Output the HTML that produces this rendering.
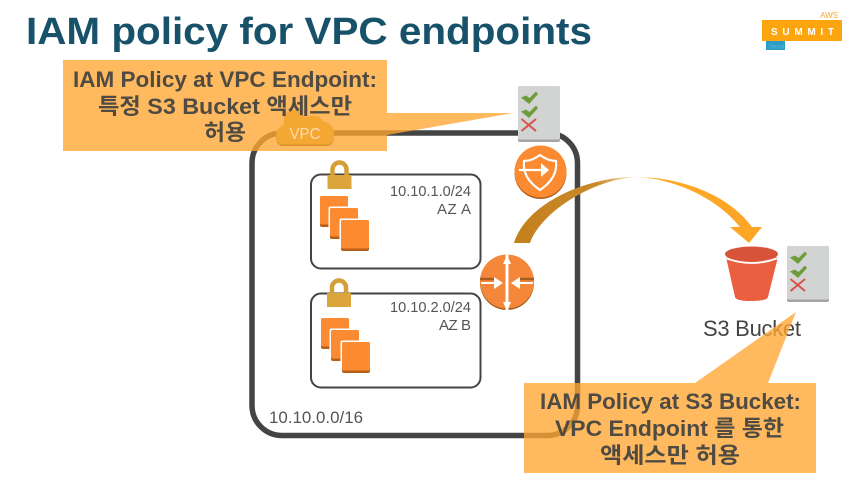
<!DOCTYPE html>
<html><head><meta charset="utf-8"><style>
html,body{margin:0;padding:0;background:#fff;width:861px;height:483px;overflow:hidden}
svg{display:block}
text{font-family:"Liberation Sans","Noto Sans CJK KR",sans-serif}
.c{font-weight:700;font-size:22px;fill:#4f4b42;font-family:"Liberation Sans","Noto Sans CJK KR",sans-serif}
.n{fill:#555;font-size:15px}
</style></head><body>
<svg width="861" height="483" viewBox="0 0 861 483" xmlns="http://www.w3.org/2000/svg">
<defs>
<linearGradient id="ag" gradientUnits="userSpaceOnUse" x1="514" y1="0" x2="765" y2="0">
<stop offset="0" stop-color="#c47f1c"/><stop offset=".33" stop-color="#c98a2a"/><stop offset=".47" stop-color="#f5d7a8"/><stop offset=".55" stop-color="#fda928"/><stop offset="1" stop-color="#fda526"/>
</linearGradient>
<g id="chk">
<rect x="0" y="0" width="42" height="56" rx="2" fill="#a3a5a5"/>
<rect x="0" y="0" width="42" height="53.5" rx="2" fill="#d2d4d3"/>
<path d="M3 11.500 L8 9.500 L11.500 12 L18 5.500 L20 8 L11 18 Z" fill="#6f9b3a"/>
<path d="M3 25.500 L8 23.500 L11.500 26 L18 19.500 L20 22 L11 32 Z" fill="#6f9b3a"/>
<path d="M3.500 33 L18 45 M18 33 L3.500 45" stroke="#d9534a" stroke-width="2" fill="none"/>
</g>
<g id="lock">
<path d="M5 16 V9.500 A7 7 0 0 1 19 9.500 V16" fill="none" stroke="#d49f38" stroke-width="4.500"/>
<rect x="0" y="15" width="24" height="14" fill="#dba53b"/>
</g>
<g id="sq">
<rect x="0" y="0" width="28" height="31" rx="2" fill="#b85f17"/>
<rect x="0" y="0" width="28" height="28.5" rx="2" fill="#fb8a30"/>
</g>
<g id="stack">
<use href="#sq" x="0" y="0"/>
<rect x="8.500" y="10.500" width="31" height="33" fill="#fff" rx="2"/>
<use href="#sq" x="10" y="12"/>
<rect x="19.500" y="22.500" width="31" height="33" fill="#fff" rx="2"/>
<use href="#sq" x="21" y="24"/>
</g>
</defs>

<text x="26" y="44" font-size="38" font-weight="700" fill="#17526a" textLength="566" lengthAdjust="spacingAndGlyphs">IAM policy for VPC endpoints</text>

<!-- logo -->
<text x="838" y="18" font-size="8" fill="#f7a830" text-anchor="end">AWS</text>
<rect x="762" y="20" width="80" height="21" fill="#fda50f"/>
<text x="771" y="35" font-size="10" font-weight="700" fill="#fff" textLength="63" lengthAdjust="spacing">SUMMIT</text>
<rect x="766" y="41" width="19" height="9" fill="#2a9cc6"/>
<text x="769" y="48.500" font-size="6" fill="#5cb7d8">Seoul</text>

<!-- VPC -->
<rect x="252" y="133" width="325.500" height="302.500" rx="30" fill="none" stroke="#444" stroke-width="5.500"/>

<!-- subnets -->
<rect x="311" y="174.500" width="169.500" height="94" rx="10" fill="#fff" stroke="#444" stroke-width="2"/>
<rect x="311" y="293.500" width="169.500" height="94" rx="10" fill="#fff" stroke="#444" stroke-width="2"/>
<use href="#lock" x="327.500" y="160"/>
<use href="#lock" x="327" y="278"/>
<use href="#stack" x="320" y="196"/>
<use href="#stack" x="321" y="318"/>
<text class="n" x="471" y="196" text-anchor="end" textLength="81" lengthAdjust="spacingAndGlyphs">10.10.1.0/24</text>
<text class="n" x="471" y="214" text-anchor="end" textLength="34" lengthAdjust="spacing">AZ A</text>
<text class="n" x="471" y="312" text-anchor="end" textLength="81" lengthAdjust="spacingAndGlyphs">10.10.2.0/24</text>
<text class="n" x="471" y="330" text-anchor="end" textLength="32" lengthAdjust="spacing">AZ B</text>
<text x="269" y="423" font-size="17" fill="#555" textLength="94" lengthAdjust="spacingAndGlyphs">10.10.0.0/16</text>

<!-- endpoint -->
<circle cx="540.500" cy="173" r="26" fill="#a85c1d"/>
<circle cx="540.500" cy="171.500" r="26" fill="#fb8a30"/>
<path d="M524 161 Q532 161 540 155 Q548 161 556 161 Q558 178 540 190 Q522 178 524 161 Z" fill="none" stroke="#fff" stroke-width="2.200"/>
<path d="M519 170 H544" stroke="#fff" stroke-width="2.200"/>
<path d="M541 163 L549 170 L541 177 Z" fill="#fff"/>

<!-- router -->
<circle cx="507" cy="283" r="27" fill="#a85c1d"/>
<circle cx="507" cy="281.500" r="27" fill="#f4873a"/>
<rect x="505.500" y="252" width="3" height="62" fill="#fff"/>
<path d="M480 279 H495 M534 279 H519" stroke="#a85c1d" stroke-width="2.500"/>
<path d="M481 283 H495 M533 283 H519" stroke="#fff" stroke-width="2"/>
<path d="M494 277 L503 283 L494 289 Z M520 277 L511 283 L520 289 Z" fill="#fff"/>
<path d="M507 255 L503 264 H511 Z M507 311 L503 302 H511 Z" fill="#fff"/>

<!-- checklist endpoint -->
<use href="#chk" x="518" y="86"/>

<!-- arrow -->
<path d="M514 243 C526 204 585 177 635 177 C680 177 728 194 752 227 L762 227 L749 243 L730 227 L740 227 C716 197 672 178 635 177 C592 180 541 212 530 243 Z" fill="url(#ag)"/>

<!-- bucket -->
<path d="M726 257 L735 297 Q736 301 751 301 Q767 301 768 297 L778 257 Z" fill="#ea5f3f"/>
<ellipse cx="751.500" cy="254" rx="26.500" ry="7.500" fill="#d9533a"/>
<path d="M725.500 258 Q751.500 268 778 258" fill="none" stroke="#fff" stroke-width="1.800"/>
<use href="#chk" x="787" y="246"/>
<text x="703" y="336" font-size="22" fill="#444" textLength="98" lengthAdjust="spacing">S3 Bucket</text>

<!-- callouts -->
<path d="M63 60 H387 V113 H513 L387 135 V151 H63 Z" fill="#ffa733" fill-opacity=".78"/>
<path d="M524 383 H695 L796 312 L768 383 H816 V473 H524 Z" fill="#ffa733" fill-opacity=".78"/>

<!-- cloud -->
<path d="M284 146 Q276 146 276 137 Q276 128 284 125 Q283 110 294 110 Q302 110 305 118 Q316 112 324 122 Q334 124 334 135 Q334 146 326 146 Z" fill="#dd9229"/>
<path d="M284 144.500 Q276 144.500 276 136 Q276 128 284 125 Q283 110 294 110 Q302 110 305 118 Q316 112 324 122 Q334 124 334 134 Q334 144.500 326 144.500 Z" fill="#f5a733"/>
<text x="305" y="139" font-size="16" fill="#f9dcb0" text-anchor="middle" textLength="31" lengthAdjust="spacingAndGlyphs">VPC</text>

<text class="c" x="73" y="87" textLength="304" lengthAdjust="spacingAndGlyphs">IAM Policy at VPC Endpoint:</text>
<text class="c" x="98" y="114" textLength="254" lengthAdjust="spacingAndGlyphs">특정 S3 Bucket 액세스만</text>
<text class="c" x="204" y="140" textLength="42" lengthAdjust="spacingAndGlyphs">허용</text>
<text class="c" x="540" y="409" textLength="261" lengthAdjust="spacingAndGlyphs">IAM Policy at S3 Bucket:</text>
<text class="c" x="555" y="436" textLength="229" lengthAdjust="spacingAndGlyphs">VPC Endpoint 를 통한</text>
<text class="c" x="600" y="463" textLength="140" lengthAdjust="spacingAndGlyphs">액세스만 허용</text>
</svg>
</body></html>
